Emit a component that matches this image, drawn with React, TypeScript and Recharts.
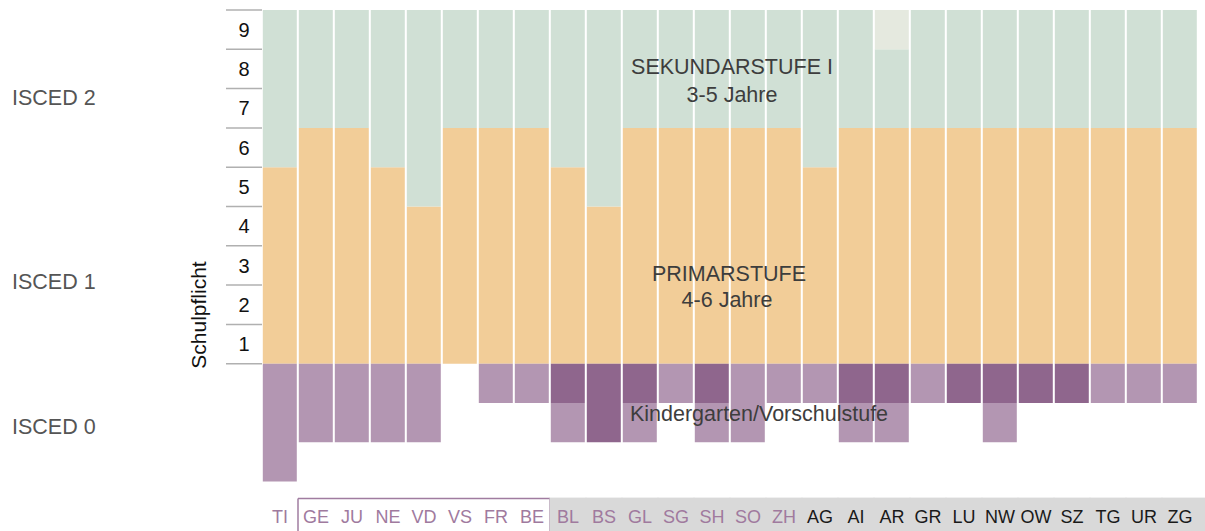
import React from 'react';
import { BarChart, Bar, XAxis, YAxis } from 'recharts';

const cantons = ['TI', 'GE', 'JU', 'NE', 'VD', 'VS', 'FR', 'BE', 'BL', 'BS', 'GL', 'SG', 'SH', 'SO', 'ZH', 'AG', 'AI', 'AR', 'GR', 'LU', 'NW', 'OW', 'SZ', 'TG', 'UR', 'ZG'];
const primaryYears = [5, 6, 6, 5, 4, 6, 6, 6, 5, 4, 6, 6, 6, 6, 6, 5, 6, 6, 6, 6, 6, 6, 6, 6, 6, 6];
const secondaryYears = [4, 3, 3, 4, 5, 3, 3, 3, 4, 5, 3, 3, 3, 3, 3, 4, 3, 2, 3, 3, 3, 3, 3, 3, 3, 3];
const secondaryExtra = [0, 0, 0, 0, 0, 0, 0, 0, 0, 0, 0, 0, 0, 0, 0, 0, 0, 1, 0, 0, 0, 0, 0, 0, 0, 0];
// kindergarten: compulsory (dark) and optional/offered (light) years
const kgCompulsory = [0, 0, 0, 0, 0, 0, 0, 0, 1, 2, 1, 0, 1, 0, 0, 0, 1, 1, 0, 1, 1, 1, 1, 0, 0, 0];
const kgOptional = [3, 2, 2, 2, 2, 0, 1, 1, 1, 0, 1, 1, 1, 2, 1, 1, 1, 1, 1, 0, 1, 0, 0, 1, 1, 1];
const yTicks = [0, 1, 2, 3, 4, 5, 6, 7, 8, 9];

const data = cantons.map((canton, i) => ({
  canton,
  primary: primaryYears[i],
  secondary: secondaryYears[i],
  extra: secondaryExtra[i],
  kgC: -kgCompulsory[i],
  kgO: -kgOptional[i],
}));

const FONT = '"Liberation Sans", Arial, Helvetica, sans-serif';
const W = 1205;
const H = 531;
const TOP = 10;
const BOTTOM = 49.4;
const BAND_Y = (H - TOP - BOTTOM) / 12;

function XTick(props: any) {
  const { x, y, payload, index } = props;
  const half = (props.width ? props.width / cantons.length : 36) / 2;
  const isLast = index === cantons.length - 1;
  const purple = index <= 14;
  return (
    <g>
      {index >= 8 && (
        <rect x={x - half - 0.5} y={y + 16} width={half * 2 + 1 + (isLast ? 8 : 0)} height={40} fill="#d9d9d9" />
      )}
      {index >= 1 && index <= 7 && (
        <g stroke="#a07ca0" strokeWidth={1.5} fill="none">
          <line x1={x - half} x2={x + half} y1={y + 17} y2={y + 17} />
          {index === 1 && <line x1={x - half} x2={x - half} y1={y + 17} y2={y + 52} />}
          {index === 7 && <line x1={x + half} x2={x + half} y1={y + 17} y2={y + 52} />}
        </g>
      )}
      <text x={x} y={y + 41.5} textAnchor="middle" fontFamily={FONT} fontSize={18} fill={purple ? '#a07a9e' : '#1a1a1a'}>
        {payload.value}
      </text>
    </g>
  );
}

function YTick(props: any) {
  const { x, y, payload } = props;
  return (
    <g>
      <line x1={x - 36} x2={x} y1={y} y2={y} stroke="#b0b0b0" strokeWidth={1.5} />
      {payload.value >= 1 && (
        <text x={x - 18} y={y + BAND_Y / 2} dy="0.36em" textAnchor="middle" fontFamily={FONT} fontSize={20} fill="#111">
          {payload.value}
        </text>
      )}
    </g>
  );
}

export default function App() {
  return (
    <div style={{ position: 'absolute', left: 0, top: 0, width: W, height: H, background: '#fff' }}>
      <BarChart
        width={W}
        height={H}
        data={data}
        stackOffset="sign"
        barCategoryGap={0.8}
        margin={{ top: TOP, right: 7, left: 202, bottom: BOTTOM - 40 }}
      >
        <XAxis
          dataKey="canton"
          interval={0}
          axisLine={false}
          tickLine={false}
          tickSize={0}
          tickMargin={0}
          height={40}
          tick={(p: any) => <XTick {...p} />}
        />
        <YAxis
          type="number"
          domain={[-3, 9]}
          ticks={yTicks}
          interval={0}
          axisLine={false}
          tickLine={false}
          tickSize={0}
          tickMargin={0}
          width={60}
          tick={(p: any) => <YTick {...p} />}
        />
        <Bar dataKey="primary" stackId="a" fill="#f2cd98" isAnimationActive={false} />
        <Bar dataKey="secondary" stackId="a" fill="#d0e0d5" isAnimationActive={false} />
        <Bar dataKey="extra" stackId="a" fill="#e5e9df" isAnimationActive={false} />
        <Bar dataKey="kgC" stackId="a" fill="#8f668d" isAnimationActive={false} />
        <Bar dataKey="kgO" stackId="a" fill="#b396b2" isAnimationActive={false} />
      </BarChart>
      <svg width={W} height={H} style={{ position: 'absolute', left: 0, top: 0, pointerEvents: 'none' }}>
        <g fontFamily={FONT} fill="#555" fontSize={21.5}>
          <text x={12} y={105}>ISCED 2</text>
          <text x={12} y={289}>ISCED 1</text>
          <text x={12} y={434}>ISCED 0</text>
        </g>
        <text x={206} y={315} transform="rotate(-90 206 315)" textAnchor="middle" fontFamily={FONT} fontSize={21} fill="#111">
          Schulpflicht
        </text>
        <g fontFamily={FONT} fill="#3d3d3d" fontSize={21.5} textAnchor="middle">
          <text x={732} y={74}>SEKUNDARSTUFE I</text>
          <text x={732} y={102}>3-5 Jahre</text>
          <text x={729} y={281}>PRIMARSTUFE</text>
          <text x={727} y={307}>4-6 Jahre</text>
          <text x={759} y={421}>Kindergarten/Vorschulstufe</text>
        </g>
      </svg>
    </div>
  );
}
